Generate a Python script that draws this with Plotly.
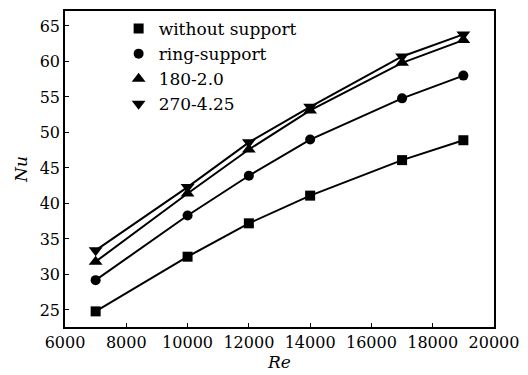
import plotly.graph_objects as go

re_vals = [7000, 10000, 12000, 14000, 17000, 19000]
nu_without = [24.8, 32.5, 37.2, 41.1, 46.1, 48.9]
nu_ring = [29.2, 38.3, 43.9, 49.0, 54.8, 58.0]
nu_180 = [31.8, 41.4, 47.6, 53.1, 59.8, 63.0]
nu_270 = [33.4, 42.3, 48.6, 53.6, 60.7, 63.8]

series = [
    ("without support", nu_without, "square", 10),
    ("ring-support", nu_ring, "circle", 10),
    ("180-2.0", nu_180, "triangle-up", 12),
    ("270-4.25", nu_270, "triangle-down", 12),
]

font_family = "DejaVu Serif"

fig = go.Figure()
for name, vals, sym, sz in series:
    fig.add_trace(go.Scatter(x=re_vals, y=vals, mode="lines",
                             line=dict(color="black", width=2),
                             showlegend=False, hoverinfo="skip"))
for name, vals, sym, sz in series:
    fig.add_trace(go.Scatter(x=re_vals, y=vals, mode="markers", name=name,
                             marker=dict(symbol=sym, size=sz, color="black")))

axis_common = dict(showline=True, linecolor="black", linewidth=1.5, mirror=True,
                   ticks="inside", ticklen=4, tickcolor="black", showgrid=False,
                   zeroline=False, tickformat="d", ticklabeloverflow="allow",
                   tickfont=dict(family=font_family, size=16, color="black"))

fig.update_layout(
    width=528, height=375,
    margin=dict(l=65, r=27, t=9, b=47),
    paper_bgcolor="white", plot_bgcolor="white",
    font=dict(family=font_family, size=17, color="black"),
    xaxis=dict(range=[6000, 20000], dtick=2000, tick0=6000,
               title=dict(text="<i>Re</i>", standoff=2,
                          font=dict(family=font_family, size=17)),
               **axis_common),
    yaxis=dict(range=[22.6, 67.1], dtick=5, tick0=25,
               title=dict(text="<i>Nu</i>", standoff=8,
                          font=dict(family=font_family, size=17)),
               **axis_common),
    legend=dict(x=0.125, y=1.0, xanchor="left", yanchor="top",
                bgcolor="rgba(0,0,0,0)", font=dict(family=font_family, size=17),
                itemsizing="trace", tracegroupgap=0),
)

fig.write_html("out.html")
